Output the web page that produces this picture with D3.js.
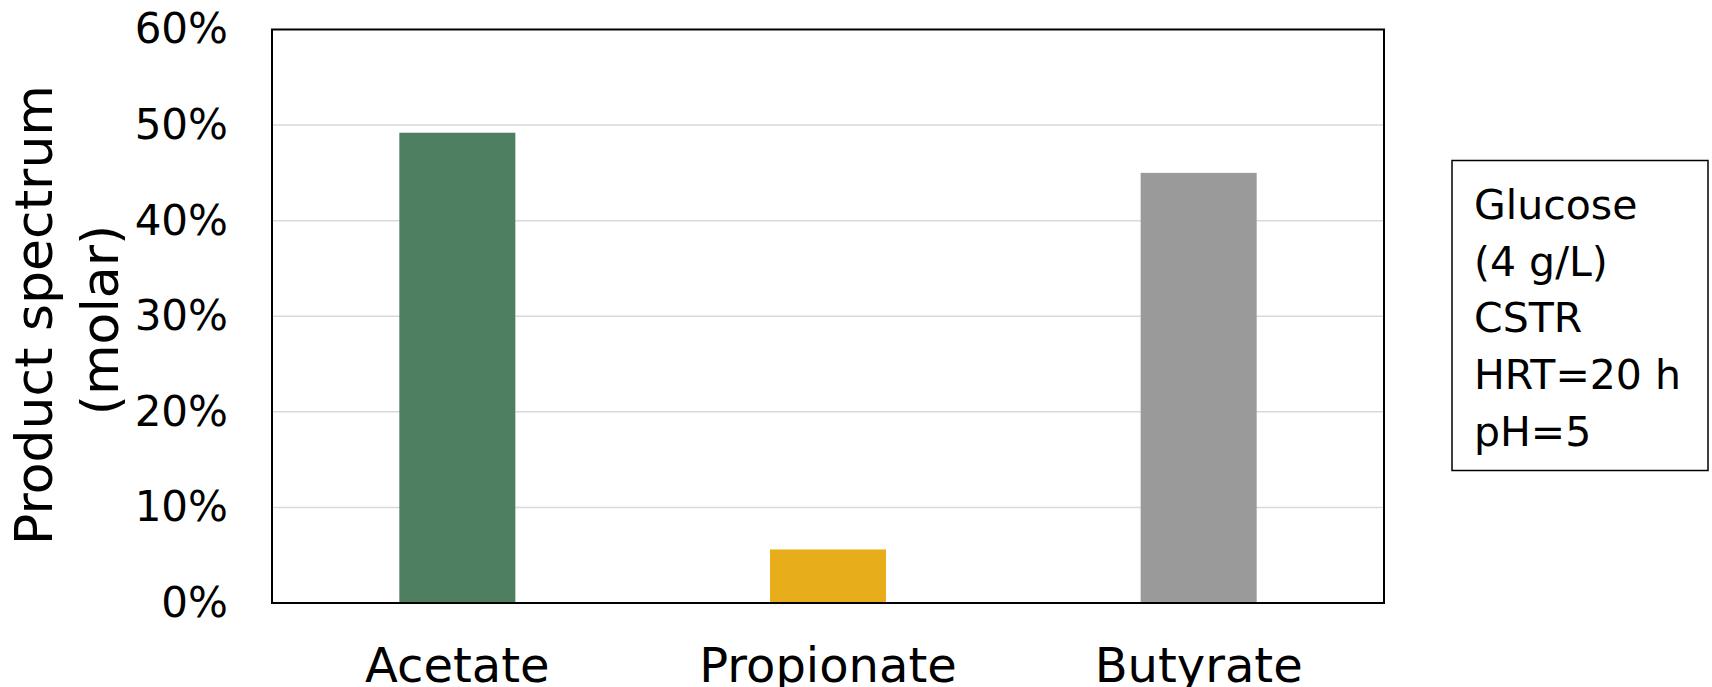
<!DOCTYPE html>
<html>
<head>
<meta charset="utf-8">
<script src="https://cdn.jsdelivr.net/npm/d3@7"></script>
<style>
  html, body { margin: 0; padding: 0; background: #ffffff; }
  svg { display: block; }
  text { font-family: "DejaVu Sans", "Noto Sans", sans-serif; fill: #000; }
</style>
</head>
<body>
<svg id="chart" width="1712" height="687"></svg>
<script>
// Molar product spectrum of the acid fermentation
const categories = ["Acetate", "Propionate", "Butyrate"];
const shares = [0.492, 0.056, 0.450];
const barColors = ["#4f7f61", "#e8ad1b", "#9a9a9a"];
const yTicks = [0, 0.1, 0.2, 0.3, 0.4, 0.5, 0.6];
const yTitleLines = ["Product spectrum", "(molar)"];
const noteLines = ["Glucose", "(4 g/L)", "CSTR", "HRT=20 h", "pH=5"];

const svg = d3.select("#chart");
const plot = { left: 272, top: 29.5, right: 1384, bottom: 603 };

const x = d3.scaleBand()
  .domain(categories)
  .range([plot.left, plot.right])
  .paddingInner(0.687)
  .paddingOuter(0.687 / 2);

const y = d3.scaleLinear()
  .domain([0, 0.6])
  .range([plot.bottom, plot.top]);

// horizontal gridlines
svg.append("g")
  .selectAll("line")
  .data(yTicks.filter(t => t > 0 && t < 0.6))
  .join("line")
  .attr("x1", plot.left)
  .attr("x2", plot.right)
  .attr("y1", d => y(d))
  .attr("y2", d => y(d))
  .attr("stroke", "#d9d9d9")
  .attr("stroke-width", 1.5);

// bars
svg.append("g")
  .selectAll("rect")
  .data(categories)
  .join("rect")
  .attr("x", d => x(d))
  .attr("width", x.bandwidth())
  .attr("y", (d, i) => y(shares[i]))
  .attr("height", (d, i) => y(0) - y(shares[i]))
  .attr("fill", (d, i) => barColors[i]);

// plot frame
svg.append("rect")
  .attr("x", plot.left)
  .attr("y", plot.top)
  .attr("width", plot.right - plot.left)
  .attr("height", plot.bottom - plot.top)
  .attr("fill", "none")
  .attr("stroke", "#000")
  .attr("stroke-width", 2);

// y axis labels
const yAxis = d3.axisLeft(y)
  .tickValues(yTicks)
  .tickFormat(d3.format(".0%"))
  .tickSize(0)
  .tickPadding(44);
const yg = svg.append("g")
  .attr("transform", `translate(${plot.left},0)`)
  .call(yAxis);
yg.select(".domain").remove();
yg.selectAll("text")
  .attr("font-size", 42)
  .attr("font-family", "DejaVu Sans")
  .attr("fill", "#000");

// x axis labels
const xAxis = d3.axisBottom(x).tickSize(0).tickPadding(0);
const xg = svg.append("g")
  .attr("transform", `translate(0,${plot.bottom})`)
  .call(xAxis);
xg.select(".domain").remove();
xg.selectAll("text")
  .attr("font-size", 48)
  .attr("font-family", "DejaVu Sans")
  .attr("fill", "#000")
  .attr("dy", null)
  .attr("y", 79);

// y axis title (two rotated lines)
const titleBaselines = [52, 118];
const titleCenters = [315, 320];
yTitleLines.forEach((line, i) => {
  svg.append("text")
    .attr("transform", `translate(${titleBaselines[i]},${titleCenters[i]}) rotate(-90)`)
    .attr("text-anchor", "middle")
    .attr("font-size", 52)
    .text(line);
});

// condition note box
const note = svg.append("g");
note.append("rect")
  .attr("x", 1452)
  .attr("y", 160.5)
  .attr("width", 256)
  .attr("height", 310)
  .attr("fill", "#fff")
  .attr("stroke", "#000")
  .attr("stroke-width", 1.5);
note.selectAll("text")
  .data(noteLines)
  .join("text")
  .attr("x", 1474)
  .attr("y", (d, i) => 219 + i * 56.7)
  .attr("font-size", 41)
  .text(d => d);
</script>
</body>
</html>
